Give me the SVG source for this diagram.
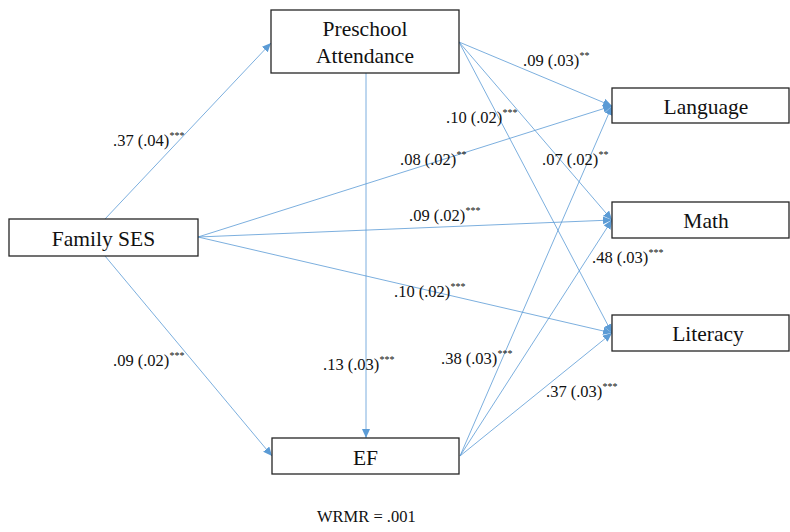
<svg xmlns="http://www.w3.org/2000/svg" width="790" height="532" viewBox="0 0 790 532">
<style>
.box{fill:#fff;stroke:#262626;stroke-width:1.3}
.ln{stroke:#5B9BD5;stroke-width:0.8;fill:none;marker-end:url(#ah)}
</style>
<defs>
<marker id="ah" markerUnits="userSpaceOnUse" markerWidth="10" markerHeight="10" refX="9" refY="4" orient="auto">
<path d="M0,0 L9,4 L0,8 z" fill="#5B9BD5"/>
</marker>
</defs>
<rect width="790" height="532" fill="#fff"/>
<g id="connectors">
<line class="ln" x1="105" y1="219" x2="271" y2="43"/>
<line class="ln" x1="105" y1="256" x2="272" y2="456"/>
<line class="ln" x1="366" y1="73" x2="366" y2="438"/>
<line class="ln" x1="459" y1="42" x2="612" y2="106"/>
<line class="ln" x1="459" y1="42" x2="612" y2="220"/>
<line class="ln" x1="459" y1="42" x2="612" y2="333"/>
<line class="ln" x1="198" y1="237" x2="612" y2="106"/>
<line class="ln" x1="198" y1="237" x2="612" y2="220"/>
<line class="ln" x1="198" y1="237" x2="612" y2="333"/>
<line class="ln" x1="460" y1="456" x2="612" y2="106"/>
<line class="ln" x1="460" y1="456" x2="612" y2="220"/>
<line class="ln" x1="460" y1="456" x2="612" y2="333"/>
</g>
<g id="preschool">
<rect class="box" x="271" y="10" width="188" height="63"/>
<text x="365" y="36" font-family="Liberation Serif" font-size="21.5" text-anchor="middle" fill="#111">Preschool</text>
<text x="365" y="63" font-family="Liberation Serif" font-size="21.5" text-anchor="middle" fill="#111">Attendance</text>
</g>
<g id="family_ses">
<rect class="box" x="9" y="219" width="189" height="37"/>
<text x="103.5" y="246" font-family="Liberation Serif" font-size="21.5" text-anchor="middle" fill="#111">Family SES</text>
</g>
<g id="ef">
<rect class="box" x="272" y="438" width="187" height="36"/>
<text x="365.5" y="465" font-family="Liberation Serif" font-size="21.5" text-anchor="middle" fill="#111">EF</text>
</g>
<g id="language">
<rect class="box" x="612" y="88" width="177" height="35"/>
<text x="706" y="114" font-family="Liberation Serif" font-size="21.5" text-anchor="middle" fill="#111">Language</text>
</g>
<g id="math">
<rect class="box" x="612" y="202" width="177" height="36"/>
<text x="706" y="228" font-family="Liberation Serif" font-size="21.5" text-anchor="middle" fill="#111">Math</text>
</g>
<g id="literacy">
<rect class="box" x="612" y="315" width="177" height="36"/>
<text x="708" y="341" font-family="Liberation Serif" font-size="21.5" text-anchor="middle" fill="#111">Literacy</text>
</g>
<g id="labels">
<text x="523" y="66" font-family="Liberation Serif" font-size="16.5" fill="#111">.09 (.03)<tspan font-size="10" dy="-7">**</tspan></text>
<text x="446" y="123" font-family="Liberation Serif" font-size="16.5" fill="#111">.10 (.02)<tspan font-size="10" dy="-7">***</tspan></text>
<text x="400" y="165" font-family="Liberation Serif" font-size="16.5" fill="#111">.08 (.02)<tspan font-size="10" dy="-7">**</tspan></text>
<text x="542" y="165" font-family="Liberation Serif" font-size="16.5" fill="#111">.07 (.02)<tspan font-size="10" dy="-7">**</tspan></text>
<text x="409" y="221" font-family="Liberation Serif" font-size="16.5" fill="#111">.09 (.02)<tspan font-size="10" dy="-7">***</tspan></text>
<text x="592" y="263" font-family="Liberation Serif" font-size="16.5" fill="#111">.48 (.03)<tspan font-size="10" dy="-7">***</tspan></text>
<text x="394" y="297" font-family="Liberation Serif" font-size="16.5" fill="#111">.10 (.02)<tspan font-size="10" dy="-7">***</tspan></text>
<text x="441" y="364" font-family="Liberation Serif" font-size="16.5" fill="#111">.38 (.03)<tspan font-size="10" dy="-7">***</tspan></text>
<text x="546" y="397" font-family="Liberation Serif" font-size="16.5" fill="#111">.37 (.03)<tspan font-size="10" dy="-7">***</tspan></text>
<text x="323" y="370" font-family="Liberation Serif" font-size="16.5" fill="#111">.13 (.03)<tspan font-size="10" dy="-7">***</tspan></text>
<text x="113" y="146" font-family="Liberation Serif" font-size="16.5" fill="#111">.37 (.04)<tspan font-size="10" dy="-7">***</tspan></text>
<text x="113" y="366" font-family="Liberation Serif" font-size="16.5" fill="#111">.09 (.02)<tspan font-size="10" dy="-7">***</tspan></text>
<text x="317" y="522" font-family="Liberation Serif" font-size="16.5" fill="#111">WRMR = .001</text>
</g>
</svg>
